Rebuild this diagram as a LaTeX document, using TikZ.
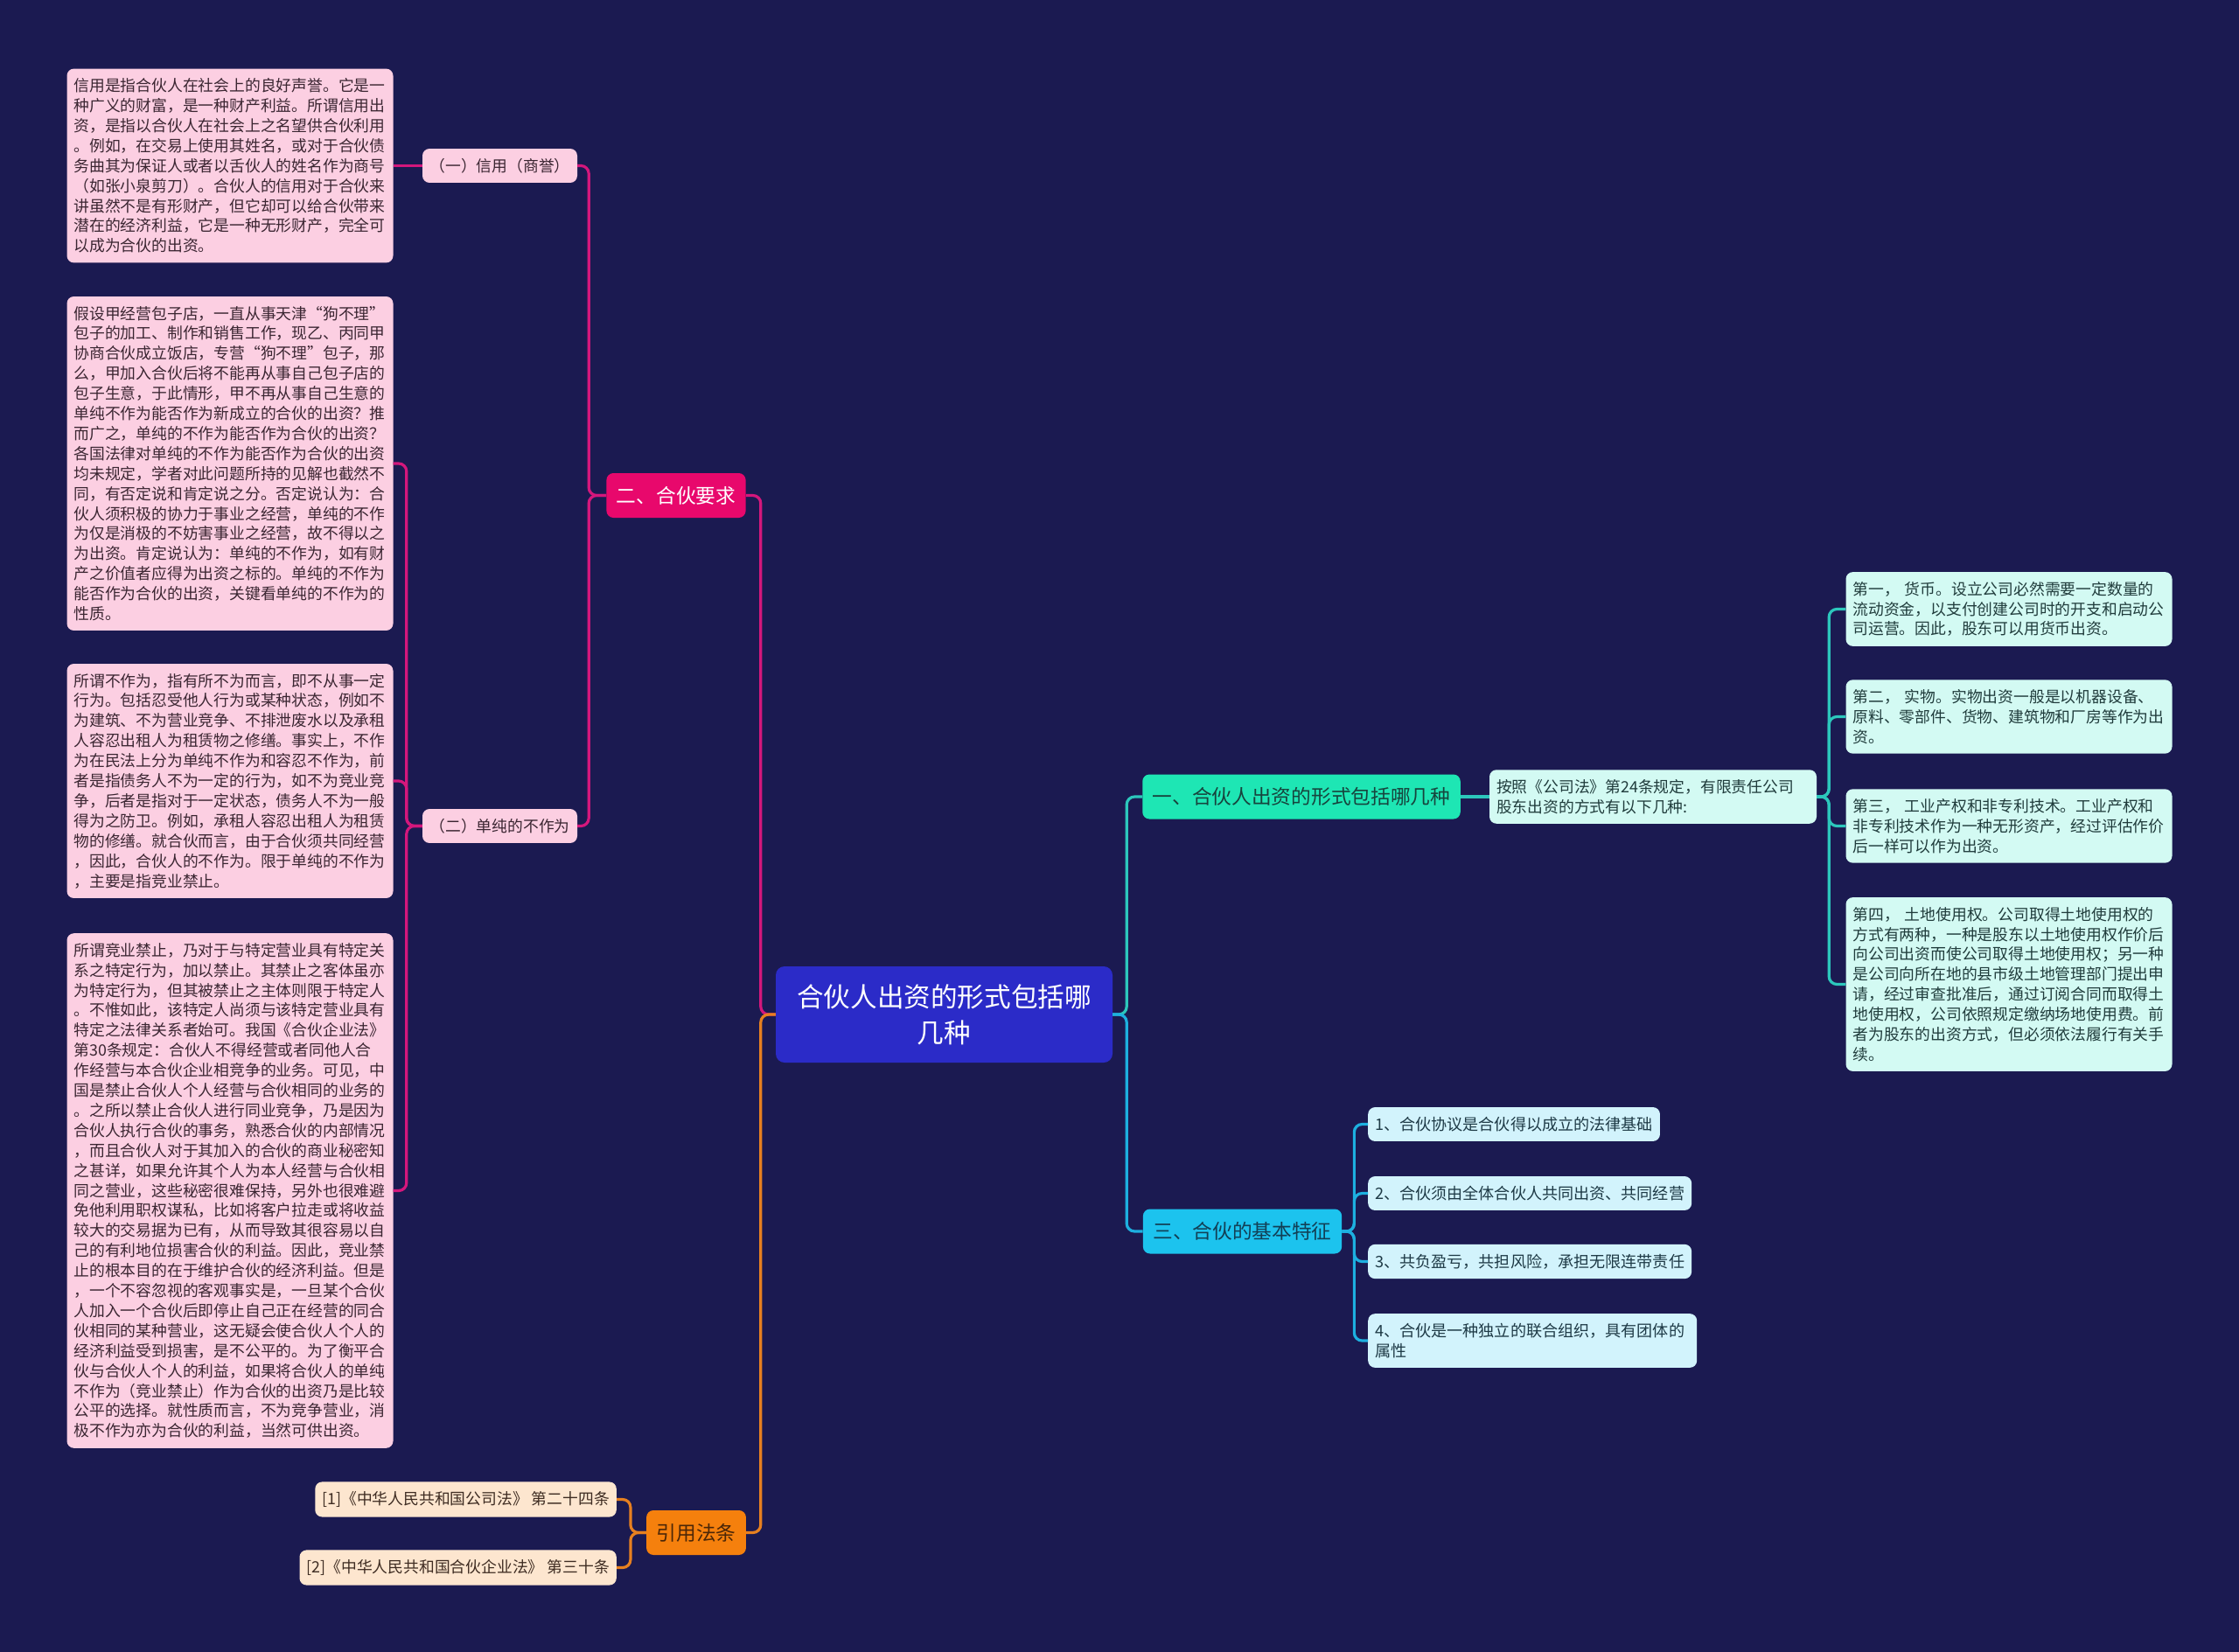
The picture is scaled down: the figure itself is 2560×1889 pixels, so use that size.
\documentclass[tikz,border=0pt]{standalone}
\usepackage{fontspec}
\setmainfont{Noto Sans CJK SC}
\usetikzlibrary{positioning}
\definecolor{bg}{HTML}{1B1A51}
\definecolor{hubblue}{HTML}{2B2BC8}
\definecolor{aqua}{HTML}{1EE6B4}
\definecolor{aquatext}{HTML}{17443D}
\definecolor{tealline}{HTML}{2CC7BC}
\definecolor{mint}{HTML}{D3FAF3}
\definecolor{minttext}{HTML}{203C3C}
\definecolor{sky}{HTML}{1CC3EE}
\definecolor{skytext}{HTML}{123F55}
\definecolor{skyline}{HTML}{1DB0E0}
\definecolor{icy}{HTML}{D2F3FC}
\definecolor{icytext}{HTML}{1E3A46}
\definecolor{rose}{HTML}{E8086C}
\definecolor{roseline}{HTML}{D4177C}
\definecolor{blush}{HTML}{FCCFE2}
\definecolor{blushtext}{HTML}{3B2632}
\definecolor{amber}{HTML}{F5800D}
\definecolor{ambertext}{HTML}{4A2608}
\definecolor{amberline}{HTML}{E68020}
\definecolor{peach}{HTML}{FDE6CF}
\definecolor{peachtext}{HTML}{3E2C22}

\begin{document}
\begin{tikzpicture}[x=1pt,y=-1pt,
 leaf/.style={rounded corners=8pt,align=left,inner xsep=8pt,inner ysep=11pt,font=\fontsize{17.8}{22.9}\selectfont},
 pinkleaf/.style={leaf,fill=blush,text=blushtext},
 mintleaf/.style={leaf,fill=mint,text=minttext},
 icyleaf/.style={leaf,fill=icy,text=icytext,font=\fontsize{18.1}{22.9}\selectfont},
 peachleaf/.style={leaf,fill=peach,text=peachtext},
 branch/.style={rounded corners=8pt,inner xsep=11.5pt,minimum height=51pt,font=\fontsize{22.7}{26}\selectfont},
 link/.style={line width=3.2pt,rounded corners=9pt}]
\fill[bg] (0,0) rectangle (2560,1889);
\node[fill=hubblue,text=white,rounded corners=10pt,minimum width=385pt,minimum height=110pt,align=center,font=\fontsize{30.6}{41}\selectfont] (hub) at (1079.5,1160) {合伙人出资的形式包括哪\\几种};
\node[branch,fill=aqua,text=aquatext] (xingshi) at (1488,911) {一、合伙人出资的形式包括哪几种};
\node[mintleaf,text width=358pt] (guiding) at (1890,911) {按照《公司法》第24条规定，有限责任公司\\股东出资的方式有以下几种:};
\node[mintleaf,text width=357pt] (huobi) at (2297,696.5) {第一， 货币。设立公司必然需要一定数量的\\流动资金，以支付创建公司时的开支和启动公\\司运营。因此，股东可以用货币出资。};
\node[mintleaf,text width=357pt] (shiwu) at (2297,819.5) {第二， 实物。实物出资一般是以机器设备、\\原料、零部件、货物、建筑物和厂房等作为出\\资。};
\node[mintleaf,text width=357pt] (chanquan) at (2297,944.5) {第三， 工业产权和非专利技术。工业产权和\\非专利技术作为一种无形资产，经过评估作价\\后一样可以作为出资。};
\node[mintleaf,text width=357pt] (tudi) at (2297,1125.5) {第四， 土地使用权。公司取得土地使用权的\\方式有两种，一种是股东以土地使用权作价后\\向公司出资而使公司取得土地使用权；另一种\\是公司向所在地的县市级土地管理部门提出申\\请，经过审查批准后，通过订阅合同而取得土\\地使用权，公司依照规定缴纳场地使用费。前\\者为股东的出资方式，但必须依法履行有关手\\续。};
\node[branch,fill=sky,text=skytext] (tezheng) at (1420.5,1408) {三、合伙的基本特征};
\node[icyleaf,anchor=west] (xieyi) at (1564,1285.5) {1、合伙协议是合伙得以成立的法律基础};
\node[icyleaf,anchor=west] (chuzi) at (1564,1364.5) {2、合伙须由全体合伙人共同出资、共同经营};
\node[icyleaf,anchor=west] (yingkui) at (1564,1442.5) {3、共负盈亏，共担风险，承担无限连带责任};
\node[icyleaf,anchor=west,text width=360pt] (zuzhi) at (1564,1533) {4、合伙是一种独立的联合组织，具有团体的\\属性};
\node[branch,fill=rose,text=white] (yaoqiu) at (773,566.5) {二、合伙要求};
\node[pinkleaf,minimum width=177pt,align=center] (xinyong) at (571.5,189.5) {（一）信用（商誉）};
\node[pinkleaf,minimum width=177pt,align=center] (buzuowei) at (571.5,944.5) {（二）单纯的不作为};
\node[pinkleaf,text width=357pt] (shengyu) at (263,189.5) {信用是指合伙人在社会上的良好声誉。它是一\\种广义的财富，是一种财产利益。所谓信用出\\资，是指以合伙人在社会上之名望供合伙利用\\。例如，在交易上使用其姓名，或对于合伙债\\务曲其为保证人或者以舌伙人的姓名作为商号\\（如张小泉剪刀）。合伙人的信用对于合伙来\\讲虽然不是有形财产，但它却可以给合伙带来\\潜在的经济利益，它是一种无形财产，完全可\\以成为合伙的出资。};
\node[pinkleaf,text width=357pt] (jiashe) at (263,530) {假设甲经营包子店，一直从事天津“狗不理”\\包子的加工、制作和销售工作，现乙、丙同甲\\协商合伙成立饭店，专营“狗不理”包子，那\\么，甲加入合伙后将不能再从事自己包子店的\\包子生意，于此情形，甲不再从事自己生意的\\单纯不作为能否作为新成立的合伙的出资？推\\而广之，单纯的不作为能否作为合伙的出资？\\各国法律对单纯的不作为能否作为合伙的出资\\均未规定，学者对此问题所持的见解也截然不\\同，有否定说和肯定说之分。否定说认为：合\\伙人须积极的协力于事业之经营，单纯的不作\\为仅是消极的不妨害事业之经营，故不得以之\\为出资。肯定说认为：单纯的不作为，如有财\\产之价值者应得为出资之标的。单纯的不作为\\能否作为合伙的出资，关键看单纯的不作为的\\性质。};
\node[pinkleaf,text width=357pt] (suowei) at (263,893) {所谓不作为，指有所不为而言，即不从事一定\\行为。包括忍受他人行为或某种状态，例如不\\为建筑、不为营业竞争、不排泄废水以及承租\\人容忍出租人为租赁物之修缮。事实上，不作\\为在民法上分为单纯不作为和容忍不作为，前\\者是指债务人不为一定的行为，如不为竞业竞\\争，后者是指对于一定状态，债务人不为一般\\得为之防卫。例如，承租人容忍出租人为租赁\\物的修缮。就合伙而言，由于合伙须共同经营\\，因此，合伙人的不作为。限于单纯的不作为\\，主要是指竞业禁止。};
\node[pinkleaf,text width=357pt] (jingye) at (263,1361.5) {所谓竞业禁止，乃对于与特定营业具有特定关\\系之特定行为，加以禁止。其禁止之客体虽亦\\为特定行为，但其被禁止之主体则限于特定人\\。不惟如此，该特定人尚须与该特定营业具有\\特定之法律关系者始可。我国《合伙企业法》\\第30条规定：合伙人不得经营或者同他人合\\作经营与本合伙企业相竞争的业务。可见，中\\国是禁止合伙人个人经营与合伙相同的业务的\\。之所以禁止合伙人进行同业竞争，乃是因为\\合伙人执行合伙的事务，熟悉合伙的内部情况\\，而且合伙人对于其加入的合伙的商业秘密知\\之甚详，如果允许其个人为本人经营与合伙相\\同之营业，这些秘密很难保持，另外也很难避\\免他利用职权谋私，比如将客户拉走或将收益\\较大的交易据为已有，从而导致其很容易以自\\己的有利地位损害合伙的利益。因此，竞业禁\\止的根本目的在于维护合伙的经济利益。但是\\，一个不容忽视的客观事实是，一旦某个合伙\\人加入一个合伙后即停止自己正在经营的同合\\伙相同的某种营业，这无疑会使合伙人个人的\\经济利益受到损害，是不公平的。为了衡平合\\伙与合伙人个人的利益，如果将合伙人的单纯\\不作为（竞业禁止）作为合伙的出资乃是比较\\公平的选择。就性质而言，不为竞争营业，消\\极不作为亦为合伙的利益，当然可供出资。};
\node[branch,fill=amber,text=ambertext] (fatiao) at (796,1752.5) {引用法条};
\node[peachleaf,anchor=east] (gongsifa) at (705,1714.5) {[1]《中华人民共和国公司法》 第二十四条};
\node[peachleaf,anchor=east] (hehuofa) at (705,1792.5) {[2]《中华人民共和国合伙企业法》 第三十条};
\draw[link,tealline] (hub.east) -- ++(16,0) |- (xingshi.west);
\draw[link,skyline] (hub.east) -- ++(16,0) |- (tezheng.west);
\draw[link,roseline] (hub.west) -- ++(-17,0) |- (yaoqiu.east);
\draw[link,amberline] (hub.west) -- ++(-17,0) |- (fatiao.east);
\draw[link,tealline] (xingshi.east) -- (guiding.west);
\foreach \n in {huobi,shiwu,chanquan,tudi} \draw[link,tealline] (guiding.east) -- ++(14,0) |- (\n.west);
\foreach \n in {xieyi,chuzi,yingkui,zuzhi} \draw[link,skyline] (tezheng.east) -- ++(14,0) |- (\n.west);
\foreach \n in {xinyong,buzuowei} \draw[link,roseline] (yaoqiu.west) -- ++(-20,0) |- (\n.east);
\draw[link,roseline] (xinyong.west) -- (shengyu.east);
\foreach \n in {jiashe,suowei,jingye} \draw[link,roseline] (buzuowei.west) -- ++(-18,0) |- (\n.east);
\foreach \n in {gongsifa,hehuofa} \draw[link,amberline] (fatiao.west) -- ++(-18,0) |- (\n.east);
\end{tikzpicture}
\end{document}
